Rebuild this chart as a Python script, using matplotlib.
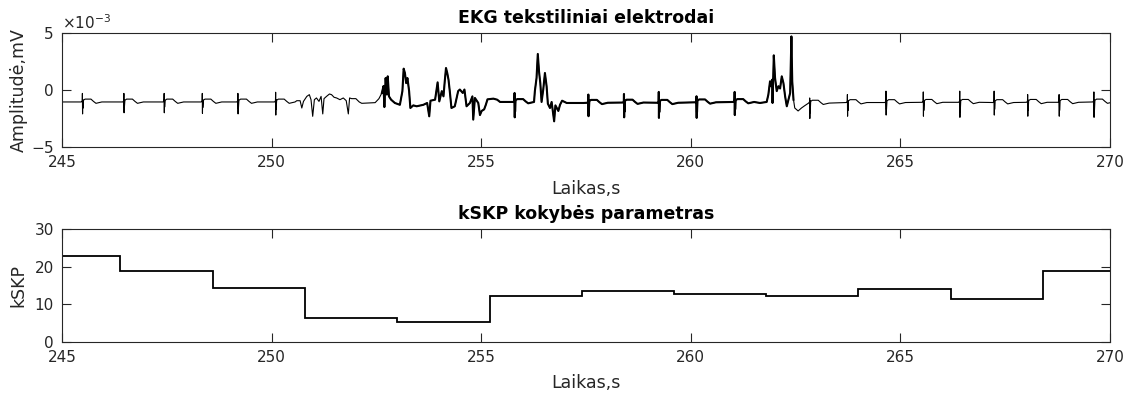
import numpy as np
import matplotlib
matplotlib.use("Agg")
import matplotlib.pyplot as plt
from matplotlib.ticker import ScalarFormatter

plt.rcParams["font.family"] = "DejaVu Sans"
plt.rcParams["axes.unicode_minus"] = False

AX_COLOR = "#262626"

# --- EKG: clean beats (R time, spike top, spike bottom, baseline), units of 1e-3 mV
beat_t = [245.49, 246.48, 247.44, 248.35, 249.20, 250.10, 255.80, 257.56, 258.41,
          259.24, 260.14, 261.05, 262.84, 263.74, 264.66, 265.55, 266.42, 267.24,
          268.04, 268.79, 269.62]
beat_hi = [-0.30, -0.30, -0.30, -0.30, -0.30, -0.20, -0.26, -0.40, -0.35,
           -0.17, -0.55, -0.17, -0.70, -0.40, -0.10, -0.17, -0.10, -0.10,
           -0.40, -0.40, -0.17]
beat_lo = [-2.10, -2.00, -2.00, -2.05, -2.10, -2.20, -2.40, -2.30, -2.40,
           -2.45, -2.45, -2.20, -2.50, -2.30, -2.20, -2.30, -2.40, -2.20,
           -2.30, -2.30, -2.40]
beat_base = [-1.05, -1.05, -1.05, -1.05, -1.05, -1.05, -1.05, -1.12, -1.10,
             -1.12, -1.08, -1.05, -1.15, -1.10, -1.10, -1.08, -1.08, -1.10,
             -1.08, -1.08, -1.05]

# QRS + T wave shape around each R time (s offsets, offsets from baseline)
qrs_dt = [-0.03, -0.008, -0.004, 0.0, 0.004, 0.008, 0.02, 0.06, 0.20, 0.26, 0.32, 0.40, 0.46]
qrs_dv = [0.0, 0.10, None, None, 0.20, "lo+", 0.15, 0.25, 0.25, 0.05, -0.12, -0.05, 0.0]

# --- EKG: motion artefact stretches traced point by point, units of 1e-3 mV
trace_t = [245.00,
           250.60, 250.68, 250.72, 250.76, 250.84, 250.90, 250.94, 250.98, 251.02, 251.07,
           251.13, 251.18, 251.22, 251.25, 251.31, 251.38, 251.43, 251.49, 251.55, 251.63,
           251.71, 251.78, 251.83, 251.86, 251.91, 252.01, 252.09, 252.15, 252.47, 252.56,
           252.63, 252.67, 252.69, 252.72, 252.75, 252.77, 252.80, 252.85, 252.94, 253.06,
           253.12, 253.15, 253.18, 253.21, 253.24, 253.28, 253.31, 253.38, 253.46, 253.62,
           253.71, 253.76, 253.79, 253.90, 253.96, 254.00, 254.06, 254.10, 254.13, 254.16,
           254.19, 254.22, 254.25, 254.29, 254.37, 254.45, 254.49, 254.56, 254.60, 254.65,
           254.73, 254.79, 254.81, 254.85, 254.93, 254.97, 255.01, 255.07, 255.11, 255.15,
           255.29, 255.38, 255.45, 255.69,
           256.28, 256.32, 256.35, 256.38, 256.41, 256.44, 256.48, 256.52, 256.56, 256.59,
           256.64, 256.68, 256.74, 256.77, 256.84, 256.88, 256.93, 257.04, 257.44,
           261.65, 261.81, 261.85, 261.89, 261.91, 261.94, 261.95, 261.98, 262.01, 262.05,
           262.09, 262.13, 262.17, 262.21, 262.25, 262.29, 262.33, 262.37, 262.40, 262.42,
           262.45, 262.48, 262.56, 262.64, 262.72]
trace_v = [-1.05,
           -0.94, -0.94, -1.58, -1.00, -0.56, -0.41, -0.85, -2.31, -0.85, -0.70,
           -1.00, -0.56, -2.10, -0.76, -0.56, -0.35, -0.41, -0.64, -0.70, -0.85,
           -0.70, -0.94, -2.10, -0.70, -0.76, -0.76, -1.05, -1.17, -1.11, -0.76,
           -0.26, 0.35, -1.50, 1.05, -0.40, 1.20, -0.56, -0.85, -1.14, -1.30,
           -0.10, 1.87, 1.49, 0.60, 1.05, -0.10, -1.58, -1.35, -1.43, -1.30,
           -1.14, -2.31, -0.94, -0.85, 0.67, -1.00, -0.10, -0.56, 0.76, 1.93,
           1.49, 0.90, -0.10, -1.58, -1.43, -0.10, 0.04, -0.26, 0.04, -1.43,
           -1.14, -0.56, -2.60, -0.70, -1.14, -2.20, -1.84, -1.70, -1.30, -0.82,
           -0.76, -0.85, -1.05, -1.05,
           -0.10, 1.05, 3.16, 1.60, 0.60, -1.05, 0.04, 1.49, 0.33, -1.20,
           -1.58, -1.05, -2.75, -1.35, -1.84, -1.30, -0.94, -1.14, -1.14,
           -1.14, -1.05, -0.41, 0.76, 0.33, 0.90, -1.14, 3.04, 1.05, -0.10,
           0.33, 0.13, 1.20, 0.60, -0.56, -1.43, -0.85, -0.26, 4.70, 0.76,
           -0.85, -1.58, -1.84, -1.58, -1.37]

# --- kSKP quality parameter, one value per window
kskp_edges = [245.0, 246.38, 248.59, 250.80, 253.00, 255.20, 257.40, 259.60,
              261.80, 264.00, 266.20, 268.40, 270.0]
kskp_values = [22.9, 18.7, 14.2, 6.2, 5.2, 12.2, 13.6, 12.6, 12.2, 13.9, 11.3, 18.8]


def beat_points(t0, base, hi, lo):
    ts, vs = [], []
    for dt, dv in zip(qrs_dt, qrs_dv):
        ts.append(t0 + dt)
        if dt == -0.004:
            vs.append(hi)
        elif dt == 0.0:
            vs.append(lo)
        elif dv == "lo+":
            vs.append(lo + 0.5)
        else:
            vs.append(base + dv)
    return ts, vs


pts_t = list(trace_t)
pts_v = list(trace_v)
for t0, b, h, l in zip(beat_t, beat_base, beat_hi, beat_lo):
    bt, bv = beat_points(t0, b, h, l)
    pts_t += bt
    pts_v += bv
order = np.argsort(pts_t)
ekg_t = np.array(pts_t)[order]
ekg_v = np.array(pts_v)[order] * 1e-3

fig = plt.figure(figsize=(11.36, 3.98), dpi=100)
ax1 = fig.add_axes([0.0546, 0.6307, 0.9225, 0.2864])
ax2 = fig.add_axes([0.0546, 0.1415, 0.9225, 0.2831])

ax1.plot(ekg_t, ekg_v, color="black", lw=0.8)
# the noisy stretch reads as a heavier trace
noisy = (ekg_t >= 252.6) & (ekg_t <= 262.45)
ax1.plot(ekg_t[noisy], ekg_v[noisy], color="black", lw=1.5)
ax1.set_xlim(245, 270)
ax1.set_ylim(-5e-3, 5e-3)
ax1.set_yticks([-5e-3, 0, 5e-3])
fmt = ScalarFormatter(useMathText=True)
fmt.set_powerlimits((-2, 2))
ax1.yaxis.set_major_formatter(fmt)
ax1.set_title("EKG tekstiliniai elektrodai", fontsize=12.5, fontweight="bold", pad=7)
ax1.set_ylabel("Amplitudė,mV", fontsize=12.5, color=AX_COLOR)
ax1.set_xlabel("Laikas,s", fontsize=12.5, color=AX_COLOR)

ax2.stairs(kskp_values, kskp_edges, baseline=None, color="black", lw=1.3)
ax2.set_xlim(245, 270)
ax2.set_ylim(0, 30)
ax2.set_yticks([0, 10, 20, 30])
ax2.set_title("kSKP kokybės parametras", fontsize=12.5, fontweight="bold", pad=7)
ax2.set_ylabel("kSKP", fontsize=12.5, color=AX_COLOR)
ax2.set_xlabel("Laikas,s", fontsize=12.5, color=AX_COLOR)

for ax in (ax1, ax2):
    ax.set_xticks([245, 250, 255, 260, 265, 270])
    ax.tick_params(direction="in", top=True, right=True, length=6.5, width=0.8,
                   colors=AX_COLOR, labelsize=11, pad=6)
    for sp in ax.spines.values():
        sp.set_color(AX_COLOR)
        sp.set_linewidth(0.8)
    ax.yaxis.set_label_coords(-0.033, 0.5)
    ax.xaxis.set_label_coords(0.5, -0.29)
ax1.yaxis.get_offset_text().set_fontsize(11)
ax1.yaxis.get_offset_text().set_color(AX_COLOR)

fig.savefig("out.png", dpi=100)
